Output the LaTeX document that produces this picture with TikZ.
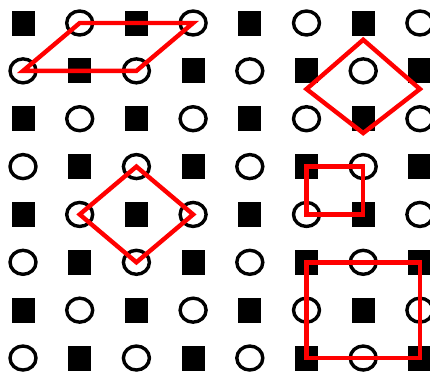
\documentclass[tikz,border=0pt]{standalone}
\usepackage{tikz}
\usetikzlibrary{calc,shapes.geometric}

\begin{document}
\begin{tikzpicture}[x=1pt, y=-1pt,
  blk/.style={fill=black, draw=none, minimum width=23pt, minimum height=25pt, inner sep=0pt},
  ring/.style={ellipse, draw=black, line width=3.4pt, fill=white, minimum width=26pt, minimum height=24pt, inner sep=0pt},
  frame/.style={draw=red, line width=4.4pt}]
  \useasboundingbox (0,0) rectangle (430,378);
  \foreach \i in {0,...,7}
    \foreach \j in {0,...,7} {
      \pgfmathtruncatemacro\odd{mod(\i+\j,2)}
      \ifnum\odd=0
        \node[blk] (d-\i-\j) at ({23+56.7*\i},{23+47.86*\j}) {};
      \else
        \node[ring] (d-\i-\j) at ({23+56.7*\i},{23+47.86*\j}) {};
      \fi
    }
  \draw[frame] (d-0-1.center) -- (d-1-0.center) -- (d-3-0.center) -- (d-2-1.center) -- cycle;
  \draw[frame] ($(d-5-1)!.38!(d-5-2)$) -- ($(d-6-0)!.35!(d-6-1)$) -- ($(d-7-1)!.38!(d-7-2)$) -- ($(d-6-2)!.3!(d-6-3)$) -- cycle;
  \draw[frame] (d-1-4.center) -- (d-2-3.center) -- (d-3-4.center) -- (d-2-5.center) -- cycle;
  \draw[frame] (d-5-3.center) rectangle (d-6-4.center);
  \draw[frame] (d-5-5.center) rectangle (d-7-7.center);
\end{tikzpicture}
\end{document}
